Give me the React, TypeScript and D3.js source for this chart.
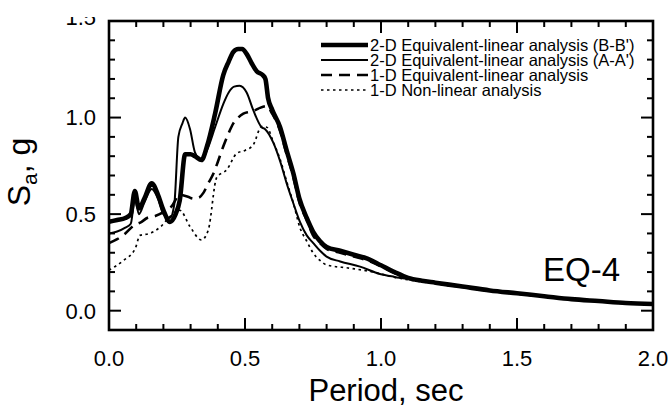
import React from "react";
import * as d3 from "d3";

// ---- data (period in sec, spectral acceleration in g) ----
const T_BB = [0, 0.03, 0.06, 0.08, 0.095, 0.11, 0.13, 0.157, 0.18, 0.2, 0.224, 0.245, 0.26, 0.28, 0.3, 0.316, 0.34, 0.36, 0.39, 0.42, 0.44, 0.457, 0.475, 0.49, 0.506, 0.525, 0.543, 0.565, 0.575, 0.585, 0.6, 0.629, 0.653, 0.678, 0.7, 0.727, 0.75, 0.776, 0.8, 0.85, 0.9, 0.95, 1.0, 1.05, 1.1, 1.15, 1.2, 1.3, 1.4, 1.5, 1.6, 1.7, 1.8, 1.9, 2.0];
const SA_BB = [0.46, 0.47, 0.48, 0.5, 0.62, 0.53, 0.58, 0.66, 0.6, 0.52, 0.46, 0.5, 0.57, 0.81, 0.81, 0.8, 0.78, 0.85, 1.02, 1.22, 1.29, 1.34, 1.355, 1.355, 1.33, 1.28, 1.24, 1.22, 1.2, 1.1, 1.04, 0.95, 0.83, 0.71, 0.58, 0.48, 0.41, 0.36, 0.33, 0.31, 0.29, 0.27, 0.235, 0.2, 0.17, 0.155, 0.145, 0.125, 0.105, 0.09, 0.075, 0.06, 0.05, 0.04, 0.035];

const T_AA = [0, 0.03, 0.06, 0.08, 0.095, 0.11, 0.13, 0.157, 0.18, 0.2, 0.224, 0.24, 0.255, 0.27, 0.28, 0.298, 0.316, 0.34, 0.36, 0.39, 0.42, 0.44, 0.46, 0.48, 0.506, 0.53, 0.561, 0.574, 0.604, 0.63, 0.653, 0.678, 0.702, 0.727, 0.751, 0.776, 0.8, 0.85, 0.923, 0.996, 1.05, 1.12, 1.2, 1.3, 1.4, 1.5, 1.6, 1.7, 1.8, 1.9, 2.0];
const SA_AA = [0.4, 0.41, 0.43, 0.45, 0.58, 0.5, 0.56, 0.63, 0.58, 0.5, 0.48, 0.55, 0.9, 0.97, 1.0, 0.94, 0.82, 0.78, 0.83, 0.95, 1.07, 1.13, 1.16, 1.165, 1.13, 1.04, 0.95, 0.94, 0.87, 0.77, 0.66, 0.555, 0.46, 0.39, 0.35, 0.31, 0.28, 0.255, 0.228, 0.19, 0.175, 0.16, 0.142, 0.122, 0.103, 0.088, 0.073, 0.058, 0.048, 0.039, 0.034];

const T_EL = [0, 0.03, 0.06, 0.09, 0.12, 0.14, 0.17, 0.2, 0.23, 0.26, 0.29, 0.31, 0.33, 0.347, 0.365, 0.384, 0.4, 0.42, 0.44, 0.457, 0.475, 0.494, 0.518, 0.54, 0.555, 0.58, 0.6, 0.629, 0.653, 0.678, 0.7, 0.727, 0.75, 0.776, 0.8, 0.85, 0.9, 0.95, 1.0, 1.05, 1.1, 1.2, 1.3, 1.4, 1.5, 1.6, 1.7, 1.8, 1.9, 2.0];
const SA_EL = [0.35, 0.37, 0.4, 0.44, 0.46, 0.48, 0.49, 0.51, 0.54, 0.6, 0.59, 0.58, 0.585, 0.61, 0.66, 0.71, 0.77, 0.85, 0.92, 0.97, 1.0, 1.02, 1.03, 1.04, 1.05, 1.06, 1.02, 0.93, 0.81, 0.69, 0.56, 0.47, 0.39, 0.35, 0.32, 0.3, 0.28, 0.26, 0.23, 0.195, 0.17, 0.143, 0.123, 0.104, 0.089, 0.074, 0.059, 0.049, 0.04, 0.035];

const T_NL = [0, 0.053, 0.096, 0.114, 0.15, 0.19, 0.224, 0.26, 0.298, 0.34, 0.365, 0.396, 0.433, 0.47, 0.5, 0.53, 0.561, 0.58, 0.605, 0.63, 0.653, 0.678, 0.702, 0.727, 0.75, 0.776, 0.8, 0.886, 0.971, 1.04, 1.1, 1.2, 1.3, 1.4, 1.5, 1.6, 1.7, 1.8, 1.9, 2.0];
const SA_NL = [0.21, 0.26, 0.32, 0.39, 0.4, 0.435, 0.487, 0.52, 0.435, 0.366, 0.418, 0.69, 0.73, 0.815, 0.83, 0.858, 0.953, 0.95, 0.87, 0.78, 0.67, 0.556, 0.43, 0.36, 0.3, 0.26, 0.237, 0.22, 0.2, 0.176, 0.16, 0.14, 0.12, 0.102, 0.087, 0.072, 0.057, 0.047, 0.038, 0.033];

const LEGEND_LABELS = [
  "2-D Equivalent-linear analysis (B-B')",
  "2-D Equivalent-linear analysis (A-A')",
  "1-D Equivalent-linear analysis",
  "1-D Non-linear analysis",
];
const X_TICK_LABELS = ["0.0", "0.5", "1.0", "1.5", "2.0"];
const Y_TICK_LABELS = ["0.0", "0.5", "1.0", "1.5"];

const FONT = "'Liberation Sans', Arial, Helvetica, sans-serif";

const W = 671;
const H = 408;
const X0 = 109, X1 = 653, Y0 = 330, Y1 = 21;

export default function App() {
  const x = d3.scaleLinear().domain([0, 2]).range([X0, X1]);
  const y = d3.scaleLinear().domain([-0.1, 1.5]).range([Y0, Y1]);

  const mk = (ts: number[], vs: number[]) => ts.map((t, i) => [t, vs[i]] as [number, number]);
  const line = d3
    .line<[number, number]>()
    .x((d) => x(d[0]))
    .y((d) => y(d[1]))
    .curve(d3.curveMonotoneX);

  const series = [
    { data: mk(T_BB, SA_BB), w: 4.6, dash: "" },
    { data: mk(T_AA, SA_AA), w: 2, dash: "" },
    { data: mk(T_EL, SA_EL), w: 2.6, dash: "11,7" },
    { data: mk(T_NL, SA_NL), w: 1.7, dash: "2.5,3.5" },
  ];

  const xTicks = d3.range(1, 20).map((i) => i / 10);
  const yTicks = d3.range(1, 15).map((i) => i / 10);
  const isMajor = (v: number) => Math.abs(v * 2 - Math.round(v * 2)) < 1e-6;
  const MAJ = 12, MIN = 6;

  const legendY = [45, 60, 75, 90];

  return (
    <svg
      width={W}
      height={H}
      style={{ position: "absolute", left: 0, top: 0, background: "#fff" }}
      fontFamily={FONT}
    >
      <defs>
        <clipPath id="topclip" clipPathUnits="userSpaceOnUse">
          <rect x={0} y={17} width={W} height={H} />
        </clipPath>
      </defs>
      <rect width={W} height={H} fill="#fff" />

      {/* curves */}
      {series.map((s, i) => (
        <path
          key={i}
          d={line(s.data) || ""}
          fill="none"
          stroke="#000"
          strokeWidth={s.w}
          strokeDasharray={s.dash || undefined}
          strokeLinejoin="round"
        />
      ))}

      {/* ticks */}
      {xTicks.map((v, i) => {
        const L = isMajor(v) ? MAJ : MIN;
        return (
          <g key={"xt" + i} stroke="#000" strokeWidth={2}>
            <line x1={x(v)} x2={x(v)} y1={Y0} y2={Y0 - L} />
            <line x1={x(v)} x2={x(v)} y1={Y1} y2={Y1 + L} />
          </g>
        );
      })}
      {yTicks.map((v, i) => {
        const L = isMajor(v) ? MAJ : MIN;
        return (
          <g key={"yt" + i} stroke="#000" strokeWidth={2}>
            <line x1={X0} x2={X0 + L} y1={y(v)} y2={y(v)} />
            <line x1={X1} x2={X1 - L} y1={y(v)} y2={y(v)} />
          </g>
        );
      })}
      <g stroke="#000" strokeWidth={2}>
        <line x1={X0} x2={X0 + MAJ} y1={y(0)} y2={y(0)} />
        <line x1={X1} x2={X1 - MAJ} y1={y(0)} y2={y(0)} />
      </g>

      {/* frame */}
      <rect x={X0} y={Y1} width={X1 - X0} height={Y0 - Y1} fill="none" stroke="#000" strokeWidth={2.6} />

      {/* x tick labels */}
      {X_TICK_LABELS.map((lab) => (
        <text key={"xl" + lab} x={x(+lab)} y={366} textAnchor="middle" fontSize={22} fill="#000">
          {lab}
        </text>
      ))}
      {/* y tick labels */}
      {Y_TICK_LABELS.map((lab) => (
        <g key={"yl" + lab} clipPath={lab === "1.5" ? "url(#topclip)" : undefined}>
          <text
            x={96}
            y={y(+lab) - (lab === "1.5" ? 4 : 0)}
            dy="0.36em"
            textAnchor="end"
            fontSize={22}
            fill="#000"
          >
            {lab}
          </text>
        </g>
      ))}

      {/* axis titles */}
      <text x={(X0 + X1) / 2 + 5} y={401} textAnchor="middle" fontSize={31} fill="#000">
        Period, sec
      </text>
      <text transform="translate(30,172) rotate(-90)" textAnchor="middle" fontSize={32} fill="#000">
        S<tspan fontSize={21} dy={7}>a</tspan>
        <tspan dy={-7}>, g</tspan>
      </text>

      {/* EQ label */}
      <text x={543} y={281} fontSize={33} fill="#000">
        EQ-4
      </text>

      {/* legend */}
      {LEGEND_LABELS.map((lab, i) => (
        <g key={"lg" + i}>
          <line
            x1={321}
            x2={368}
            y1={legendY[i]}
            y2={legendY[i]}
            stroke="#000"
            strokeWidth={series[i].w}
            strokeDasharray={series[i].dash || undefined}
          />
          <text x={370} y={legendY[i]} dy="0.36em" fontSize={16.5} fill="#000">
            {lab}
          </text>
        </g>
      ))}
    </svg>
  );
}
